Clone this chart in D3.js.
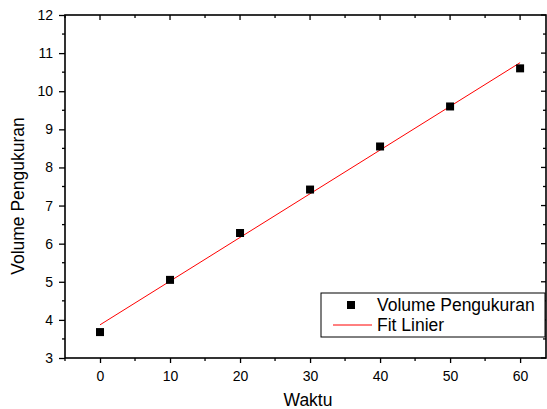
<!DOCTYPE html>
<html>
<head>
<meta charset="utf-8">
<script src="https://cdn.jsdelivr.net/npm/d3@7"></script>
<style>
  body { margin: 0; background: #fff; }
  svg { display: block; font-family: "Liberation Sans", Arial, sans-serif; }
</style>
</head>
<body>
<svg id="chart" width="547" height="409"></svg>
<script>
// data
const waktu = [0, 10, 20, 30, 40, 50, 60];
const volume = [3.68, 5.05, 6.28, 7.42, 8.55, 9.6, 10.6];
const fitX = [0, 60];
const fitY = [3.87, 10.75];
const xTicks = [0, 10, 20, 30, 40, 50, 60];
const yTicks = [3, 4, 5, 6, 7, 8, 9, 10, 11, 12];

const svg = d3.select("#chart");
const pL = 65, pR = 546, pT = 15, pB = 358;

const x = d3.scaleLinear().domain([-5, 63.7]).range([pL, pR]);
const y = d3.scaleLinear().domain([3, 12]).range([pB, pT]);

// frame
const axisW = 1.6;
svg.append("rect")
    .attr("x", pL).attr("y", pT)
    .attr("width", pR - pL).attr("height", pB - pT)
    .attr("fill", "none").attr("stroke", "#000").attr("stroke-width", axisW);

const xMinor = d3.range(-5, 64, 5).filter(v => xTicks.indexOf(v) < 0);
const yMinor = d3.range(3.5, 12, 1);

//Asse X (bottom, ticks outward)
svg.append("g")
    .attr("transform", `translate(0,${pB})`)
    .style("font-size", "14px")
    .call(d3.axisBottom(x).tickValues(xTicks).tickSize(5).tickPadding(8).tickFormat(d3.format("d")))
    .call(g => g.select(".domain").remove())
    .call(g => g.selectAll("line").attr("stroke-width", 1.3))
    .call(g => g.selectAll("text").attr("fill", "#000"));
svg.append("g").selectAll("line").data(xMinor).join("line")
    .attr("x1", d => x(d)).attr("x2", d => x(d))
    .attr("y1", pB).attr("y2", pB + 3)
    .attr("stroke", "#000").attr("stroke-width", 1.3);

// top ticks inward
svg.append("g").selectAll("line").data(xTicks).join("line")
    .attr("x1", d => x(d)).attr("x2", d => x(d))
    .attr("y1", pT).attr("y2", pT + 5)
    .attr("stroke", "#000").attr("stroke-width", 1.3);
svg.append("g").selectAll("line").data(xMinor).join("line")
    .attr("x1", d => x(d)).attr("x2", d => x(d))
    .attr("y1", pT).attr("y2", pT + 3)
    .attr("stroke", "#000").attr("stroke-width", 1.3);

//Asse Y (left, ticks outward)
svg.append("g")
    .attr("transform", `translate(${pL},0)`)
    .style("font-size", "14px")
    .call(d3.axisLeft(y).tickValues(yTicks).tickSize(6).tickPadding(6).tickFormat(d3.format("d")))
    .call(g => g.select(".domain").remove())
    .call(g => g.selectAll("line").attr("stroke-width", 1.3))
    .call(g => g.selectAll("text").attr("fill", "#000"));
svg.append("g").selectAll("line").data(yMinor).join("line")
    .attr("x1", pL - 3).attr("x2", pL)
    .attr("y1", d => y(d)).attr("y2", d => y(d))
    .attr("stroke", "#000").attr("stroke-width", 1.3);

// right ticks inward
svg.append("g").selectAll("line").data(yTicks).join("line")
    .attr("x1", pR - 5).attr("x2", pR)
    .attr("y1", d => y(d)).attr("y2", d => y(d))
    .attr("stroke", "#000").attr("stroke-width", 1.3);
svg.append("g").selectAll("line").data(yMinor).join("line")
    .attr("x1", pR - 3).attr("x2", pR)
    .attr("y1", d => y(d)).attr("y2", d => y(d))
    .attr("stroke", "#000").attr("stroke-width", 1.3);

// axis titles
svg.append("text")
    .attr("x", 308).attr("y", 406)
    .attr("text-anchor", "middle")
    .style("font-size", "17.5px")
    .text("Waktu");
svg.append("text")
    .attr("transform", `translate(24,196) rotate(-90)`)
    .attr("text-anchor", "middle")
    .style("font-size", "17.5px")
    .text("Volume Pengukuran");

// fit line
svg.append("line")
    .attr("x1", x(fitX[0])).attr("y1", y(fitY[0]))
    .attr("x2", x(fitX[1])).attr("y2", y(fitY[1]))
    .attr("stroke", "#ff0000").attr("stroke-width", 1);

// points
const pts = waktu.map((w, i) => ({ w: w, v: volume[i] }));
svg.append("g").selectAll("rect").data(pts).join("rect")
    .attr("x", d => x(d.w) - 4).attr("y", d => y(d.v) - 4)
    .attr("width", 8).attr("height", 8)
    .attr("fill", "#000");

// legend
const lg = svg.append("g");
lg.append("rect")
    .attr("x", 321).attr("y", 293)
    .attr("width", 224).attr("height", 44)
    .attr("fill", "#fff").attr("stroke", "#000").attr("stroke-width", 1);
lg.append("rect")
    .attr("x", 347).attr("y", 301).attr("width", 8).attr("height", 8)
    .attr("fill", "#000");
lg.append("text")
    .attr("x", 377).attr("y", 311)
    .style("font-size", "17.5px")
    .text("Volume Pengukuran");
lg.append("line")
    .attr("x1", 333).attr("x2", 372)
    .attr("y1", 325).attr("y2", 325)
    .attr("stroke", "#ff0000").attr("stroke-width", 1);
lg.append("text")
    .attr("x", 377).attr("y", 331)
    .style("font-size", "17.5px")
    .text("Fit Linier");
</script>
</body>
</html>
